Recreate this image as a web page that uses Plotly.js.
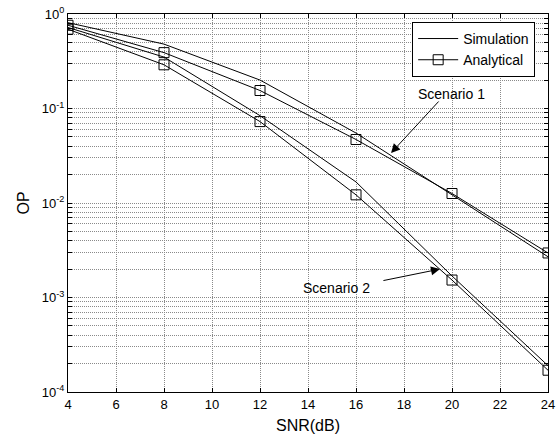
<!DOCTYPE html>
<html>
<head>
<meta charset="utf-8">
<script src="https://cdn.plot.ly/plotly-3.0.1.min.js"></script>
<style>
html,body{margin:0;padding:0;background:#fff;}
#chart{width:557px;height:441px;}
</style>
</head>
<body>
<div id="chart"></div>
<script>
// SNR points (dB)
var snr = [4, 8, 12, 16, 20, 24];
// Scenario 1
var sim1 = [0.81, 0.48, 0.20, 0.055, 0.0122, 0.0027];
var ana1 = [0.76, 0.39, 0.155, 0.047, 0.0126, 0.00296];
// Scenario 2
var sim2 = [0.72, 0.35, 0.084, 0.0167, 0.00169, 0.00019];
var ana2 = [0.69, 0.29, 0.0727, 0.0122, 0.00153, 0.00017];

var xTicks = [4, 6, 8, 10, 12, 14, 16, 18, 20, 22, 24];

// y tick values: every 1..9 multiple of each decade; labels only at decades
var yTickVals = [], yTickText = [];
for (var d = -4; d <= 0; d++) {
  for (var m = 1; m <= 9; m++) {
    if (d === 0 && m > 1) break;
    yTickVals.push(m * Math.pow(10, d));
    yTickText.push(m === 1 ? '10<sup>' + d + '</sup>' : '');
  }
}

var lineStyle = {color: '#000', width: 1};
var markerStyle = {symbol: 'square-open', size: 10, color: '#000', line: {width: 1, color: '#000'}};

var traces = [
  {x: snr, y: sim1, mode: 'lines', name: 'Simulation', line: lineStyle, showlegend: true},
  {x: snr, y: ana1, mode: 'lines+markers', name: 'Analytical', line: lineStyle, marker: markerStyle, showlegend: true},
  {x: snr, y: sim2, mode: 'lines', name: 'Simulation', line: lineStyle, showlegend: false},
  {x: snr, y: ana2, mode: 'lines+markers', name: 'Analytical', line: lineStyle, marker: markerStyle, showlegend: false}
];

var fam = 'Liberation Sans, Arial, sans-serif';

var layout = {
  width: 557, height: 441,
  margin: {l: 68, r: 9, t: 14, b: 49},
  paper_bgcolor: '#fff', plot_bgcolor: '#fff',
  font: {family: fam, color: '#000', size: 13},
  showlegend: true,
  xaxis: {
    type: 'linear', range: [4, 24],
    tickvals: xTicks, ticktext: xTicks.map(String),
    ticks: 'inside', ticklen: 4, tickcolor: '#000',
    showline: true, linecolor: '#000', linewidth: 1, mirror: 'allticks',
    showgrid: true, gridcolor: '#8a8a8a', griddash: '1px,1px', gridwidth: 1,
    zeroline: false,
    tickfont: {family: fam, size: 13, color: '#000'},
    title: {text: 'SNR(dB)', font: {family: fam, size: 16, color: '#000'}, standoff: 9}
  },
  yaxis: {
    type: 'log', range: [-4, 0],
    tickvals: yTickVals, ticktext: yTickText,
    ticks: 'inside', ticklen: 4, tickcolor: '#000',
    showline: true, linecolor: '#000', linewidth: 1, mirror: 'allticks',
    showgrid: true, gridcolor: '#8a8a8a', griddash: '1px,1px', gridwidth: 1,
    zeroline: false,
    tickfont: {family: fam, size: 13, color: '#000'},
    title: {text: 'OP', font: {family: fam, size: 16, color: '#000'}, standoff: 8}
  },
  legend: {
    x: 0.717, y: 0.979, xanchor: 'left', yanchor: 'top',
    bgcolor: '#fff', bordercolor: '#000', borderwidth: 1,
    font: {family: fam, size: 14, color: '#000'},
    itemwidth: 40, tracegroupgap: 0
  },
  annotations: [
    {x: 19.96, y: Math.log10(0.142), xref: 'x', yref: 'y', text: 'Scenario 1', showarrow: false,
     font: {family: fam, size: 14, color: '#000'}},
    {x: 17.46, y: Math.log10(0.0338), ax: 19.5, ay: Math.log10(0.123), xref: 'x', yref: 'y', axref: 'x', ayref: 'y',
     text: '', showarrow: true, arrowhead: 2, arrowsize: 1.8, arrowwidth: 1, arrowcolor: '#000'},
    {x: 15.2, y: Math.log10(0.00126), xref: 'x', yref: 'y', text: 'Scenario 2', showarrow: false,
     font: {family: fam, size: 14, color: '#000'}},
    {x: 19.5, y: Math.log10(0.002), ax: 17.08, ay: Math.log10(0.0015), xref: 'x', yref: 'y', axref: 'x', ayref: 'y',
     text: '', showarrow: true, arrowhead: 2, arrowsize: 1.8, arrowwidth: 1, arrowcolor: '#000'}
  ]
};

Plotly.newPlot('chart', traces, layout, {displayModeBar: false, staticPlot: true});
</script>
</body>
</html>
